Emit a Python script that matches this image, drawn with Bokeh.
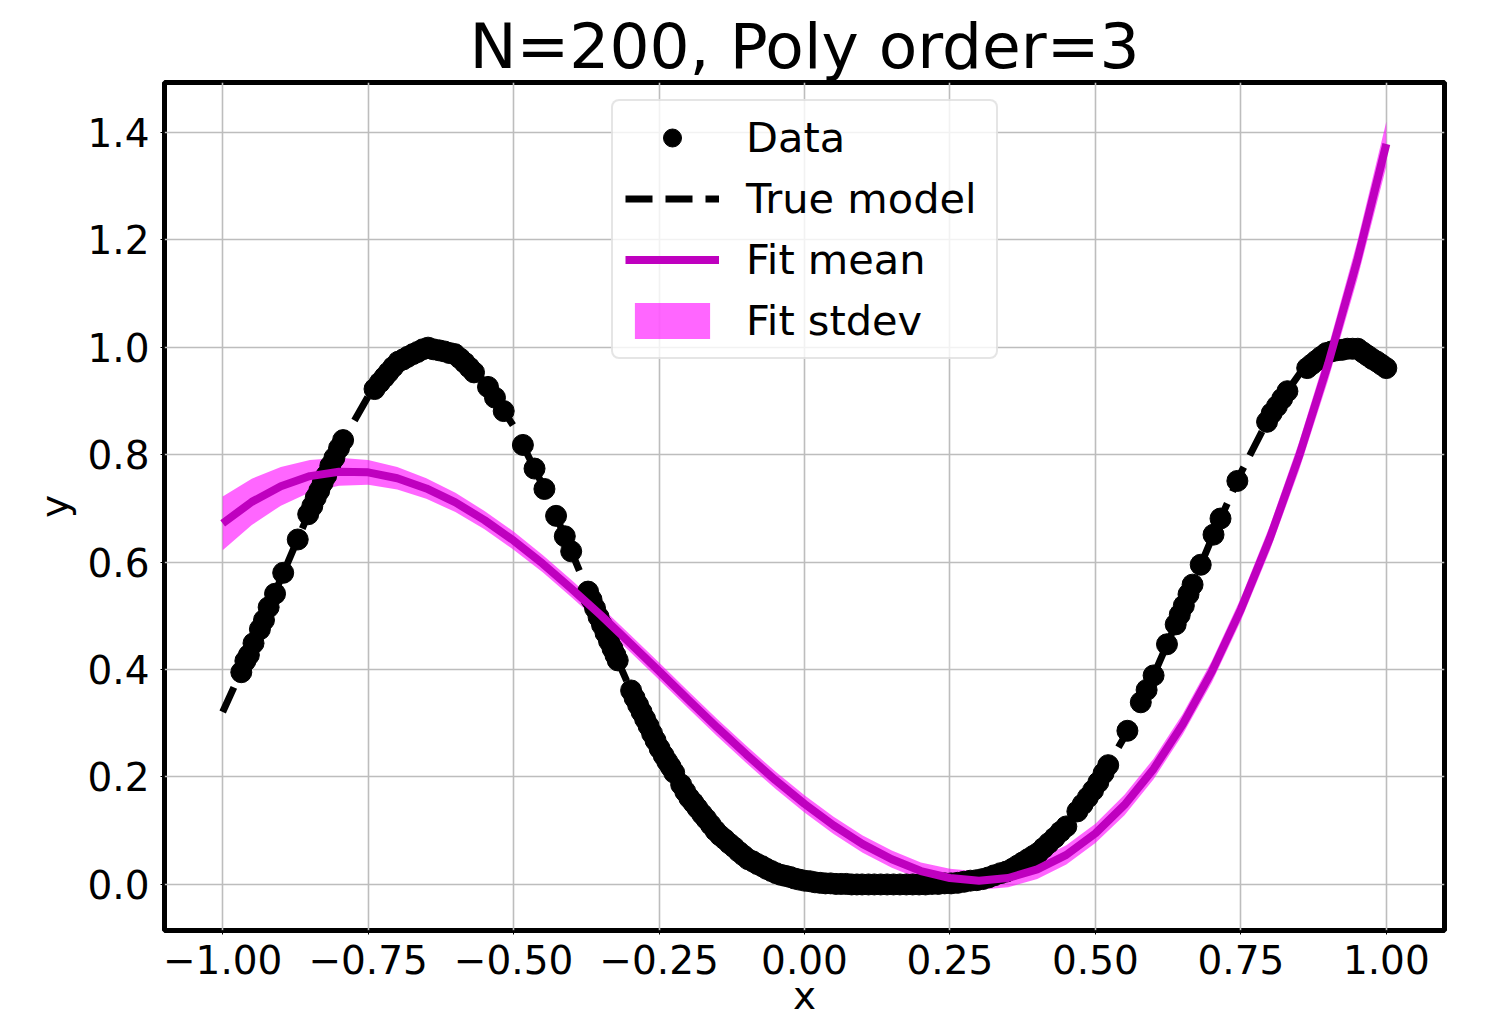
from bokeh.plotting import figure
from bokeh.models import Range1d, FixedTicker, Legend, LegendItem
from bokeh.embed import file_html
from bokeh.resources import INLINE

# ---------------- data ----------------
data_x = [
    -0.968, -0.961, -0.955, -0.947, -0.936, -0.929, -0.921, -0.910, -0.896, -0.871,
    -0.853, -0.846, -0.840, -0.834, -0.828, -0.822, -0.815, -0.808, -0.800, -0.793,
    -0.739, -0.730, -0.722, -0.715, -0.707, -0.698, -0.690, -0.682, -0.673, -0.665,
    -0.656, -0.647, -0.638, -0.628, -0.619, -0.610, -0.601, -0.592, -0.584, -0.576, -0.568,
    -0.544, -0.532, -0.517, -0.484, -0.464, -0.447, -0.427, -0.412, -0.401,
    -0.372, -0.366, -0.360, -0.354, -0.348, -0.342, -0.336, -0.330, -0.325, -0.321,
    -0.298, -0.292, -0.286, -0.280, -0.274, -0.268, -0.262, -0.256, -0.249, -0.242, -0.236, -0.230, -0.224,
    -0.212, -0.205, -0.198, -0.191, -0.184, -0.176, -0.169, -0.161, -0.153, -0.145, -0.137, -0.129, -0.121, -0.113, -0.105,
    -0.097, -0.089, -0.081, -0.073, -0.065, -0.057, -0.049, -0.041, -0.033, -0.025, -0.017, -0.009,
    0.000, 0.009, 0.018, 0.027, 0.036, 0.045, 0.054, 0.063, 0.072, 0.081, 0.090, 0.099,
    0.110, 0.120, 0.131, 0.142, 0.153, 0.164, 0.175, 0.186, 0.197, 0.208, 0.219, 0.230,
    0.241, 0.252, 0.263, 0.274, 0.285, 0.296, 0.306, 0.316, 0.326, 0.337,
    0.347, 0.357, 0.366, 0.375, 0.384, 0.393, 0.402, 0.411, 0.420, 0.430, 0.440, 0.450,
    0.469, 0.478, 0.487, 0.496, 0.505, 0.514, 0.522,
    0.555, 0.578, 0.588, 0.600, 0.623, 0.638, 0.645, 0.652, 0.660, 0.667, 0.681, 0.703, 0.715, 0.744,
    0.795, 0.803, 0.812, 0.821, 0.830,
    0.864, 0.872, 0.880, 0.888, 0.897, 0.906, 0.915, 0.924, 0.933, 0.942, 0.951, 0.960, 0.968, 0.976, 0.984, 0.992, 1.000,
]
data_y = [
    0.395, 0.416, 0.427, 0.449, 0.475, 0.492, 0.516, 0.541, 0.580, 0.642,
    0.689, 0.704, 0.720, 0.733, 0.748, 0.761, 0.779, 0.794, 0.812, 0.827,
    0.922, 0.934, 0.944, 0.953, 0.963, 0.973, 0.977, 0.982, 0.987, 0.991,
    0.996, 0.999, 0.996, 0.994, 0.992, 0.989, 0.987, 0.979, 0.971, 0.962, 0.953,
    0.926, 0.906, 0.881, 0.818, 0.774, 0.736, 0.686, 0.648, 0.620,
    0.545, 0.530, 0.514, 0.498, 0.483, 0.468, 0.453, 0.439, 0.427, 0.417,
    0.361, 0.347, 0.334, 0.321, 0.308, 0.295, 0.281, 0.268, 0.253, 0.240, 0.229, 0.219, 0.208,
    0.186, 0.173, 0.161, 0.152, 0.142, 0.131, 0.122, 0.111, 0.100, 0.091, 0.084, 0.076, 0.069, 0.061, 0.054,
    0.047, 0.043, 0.038, 0.034, 0.029, 0.025, 0.021, 0.018, 0.016, 0.014, 0.011, 0.009,
    0.007, 0.006, 0.004, 0.003, 0.002, 0.002, 0.001, 0.001, 0.001, 0.000, 0.000, 0.000,
    0.000, 0.000, 0.000, 0.000, 0.000, 0.000, 0.000, 0.000, 0.000, 0.000, 0.001, 0.001,
    0.002, 0.002, 0.003, 0.005, 0.007, 0.008, 0.010, 0.013, 0.017, 0.021,
    0.024, 0.029, 0.035, 0.041, 0.047, 0.053, 0.059, 0.068, 0.077, 0.087, 0.098, 0.108,
    0.136, 0.149, 0.162, 0.175, 0.190, 0.207, 0.222,
    0.286, 0.339, 0.362, 0.389, 0.447, 0.484, 0.502, 0.519, 0.540, 0.558, 0.595, 0.651, 0.681, 0.751,
    0.861, 0.877, 0.890, 0.904, 0.918,
    0.961, 0.968, 0.975, 0.982, 0.989, 0.992, 0.994, 0.995, 0.997, 0.997, 0.997, 0.990, 0.984, 0.978, 0.973, 0.967, 0.961,
]

curve_x = [
    -1.00, -0.95, -0.90, -0.85, -0.80, -0.75, -0.70, -0.65, -0.60, -0.55,
    -0.50, -0.45, -0.40, -0.35, -0.30, -0.25, -0.20, -0.15, -0.10, -0.05,
    0.00, 0.05, 0.10, 0.15, 0.20, 0.25, 0.30, 0.35, 0.40, 0.45,
    0.50, 0.55, 0.60, 0.65, 0.70, 0.75, 0.80, 0.85, 0.90, 0.95, 1.00,
]
true_y = [
    0.321, 0.440, 0.569, 0.696, 0.813, 0.908, 0.972, 0.999, 0.987, 0.936,
    0.853, 0.743, 0.618, 0.488, 0.365, 0.255, 0.164, 0.096, 0.049, 0.021,
    0.007, 0.001, 0.000, 0.000, 0.000, 0.002, 0.009, 0.025, 0.057, 0.108,
    0.181, 0.275, 0.389, 0.514, 0.644, 0.766, 0.872, 0.949, 0.992, 0.997, 0.961,
]
fit_mean = [
    0.672, 0.712, 0.741, 0.760, 0.768, 0.767, 0.756, 0.737, 0.711, 0.678,
    0.640, 0.597, 0.550, 0.501, 0.449, 0.397, 0.344, 0.292, 0.242, 0.194,
    0.150, 0.110, 0.075, 0.047, 0.025, 0.012, 0.007, 0.012, 0.028, 0.055,
    0.095, 0.148, 0.215, 0.298, 0.396, 0.512, 0.645, 0.797, 0.969, 1.161, 1.378,
]
fit_std = [
    0.050, 0.043, 0.036, 0.030, 0.026, 0.023, 0.021, 0.019, 0.018, 0.017,
    0.017, 0.016, 0.016, 0.016, 0.016, 0.016, 0.016, 0.016, 0.016, 0.016,
    0.016, 0.016, 0.016, 0.016, 0.016, 0.017, 0.017, 0.017, 0.018, 0.018,
    0.018, 0.019, 0.019, 0.019, 0.020, 0.021, 0.023, 0.026, 0.030, 0.035, 0.042,
]

x_ticks = [-1.0, -0.75, -0.5, -0.25, 0.0, 0.25, 0.5, 0.75, 1.0]
x_tick_labels = ["\u22121.00", "\u22120.75", "\u22120.50", "\u22120.25", "0.00", "0.25", "0.50", "0.75", "1.00"]
y_ticks = [0.0, 0.2, 0.4, 0.6, 0.8, 1.0, 1.2, 1.4]
y_tick_labels = ["0.0", "0.2", "0.4", "0.6", "0.8", "1.0", "1.2", "1.4"]

fit_lower = [m - s for m, s in zip(fit_mean, fit_std)]
fit_upper = [m + s for m, s in zip(fit_mean, fit_std)]

FONT = "DejaVu Sans"

p = figure(
    width=1486, height=1020,
    output_backend="svg", toolbar_location=None,
    x_range=Range1d(-1.1, 1.1), y_range=Range1d(-0.0857, 1.4925),
    min_border_left=164, min_border_right=42, min_border_top=82, min_border_bottom=90,
)
p.background_fill_color = "white"
p.border_fill_color = "white"
p.outline_line_color = "black"
p.outline_line_width = 5
p.outline_line_alpha = 1.0

p.title.text = "N=200, Poly order=3"
p.title.text_font = FONT
p.title.text_font_size = "63px"
p.title.text_font_style = "normal"
p.title.text_color = "black"
p.title.align = "center"
p.title.standoff = 0

# grid
for g in (p.xgrid[0], p.ygrid[0]):
    g.grid_line_color = "#bdbdbd"
    g.grid_line_width = 1.6

# axes
xa = p.xaxis[0]
ya = p.yaxis[0]
xa.ticker = FixedTicker(ticks=x_ticks)
ya.ticker = FixedTicker(ticks=y_ticks)
xa.major_label_overrides = {t: l for t, l in zip(x_ticks, x_tick_labels)}
ya.major_label_overrides = {t: l for t, l in zip(y_ticks, y_tick_labels)}
xa.axis_label = "x"
ya.axis_label = "y"
for ax in (xa, ya):
    ax.axis_line_color = None
    ax.major_tick_out = 4
    ax.major_tick_in = 0
    ax.major_tick_line_color = "black"
    ax.major_tick_line_width = 1
    ax.minor_tick_line_color = None
    ax.major_label_text_font = FONT
    ax.major_label_text_font_size = "39px"
    ax.major_label_text_color = "black"
    ax.axis_label_text_font = FONT
    ax.axis_label_text_font_size = "39px"
    ax.axis_label_text_font_style = "normal"
    ax.axis_label_text_color = "black"
xa.major_label_standoff = 10
xa.axis_label_standoff = -4
ya.major_label_standoff = 11
ya.axis_label_standoff = 7

# glyphs
r_band = p.varea(x=curve_x, y1=fit_lower, y2=fit_upper, fill_color="#ff00ff", fill_alpha=0.6)
r_data = p.scatter(data_x, data_y, size=21, marker="circle", fill_color="black", line_color="black")
r_true = p.line(curve_x, true_y, line_color="black", line_width=7, line_dash="27 13")
r_mean = p.line(curve_x, fit_mean, line_color="#bf00bf", line_width=8)

legend = Legend(
    items=[
        LegendItem(label="Data", renderers=[r_data]),
        LegendItem(label="True model", renderers=[r_true]),
        LegendItem(label="Fit mean", renderers=[r_mean]),
        LegendItem(label="Fit stdev", renderers=[r_band]),
    ],
    location=(447, 571),
    label_text_font=FONT,
    label_text_font_size="41.5px",
    label_text_color="black",
    label_height=45,
    label_width=238,
    glyph_height=45,
    glyph_width=94,
    label_standoff=27,
    spacing=12,
    padding=12,
    margin=0,
    border_line_color="#cccccc",
    border_line_width=2,
    background_fill_color="white",
    background_fill_alpha=0.8,
)
if "border_radius" in Legend.properties():
    legend.border_radius = 8
p.add_layout(legend)

open("out.html", "w").write(file_html(p, INLINE, title="N=200, Poly order=3"))
